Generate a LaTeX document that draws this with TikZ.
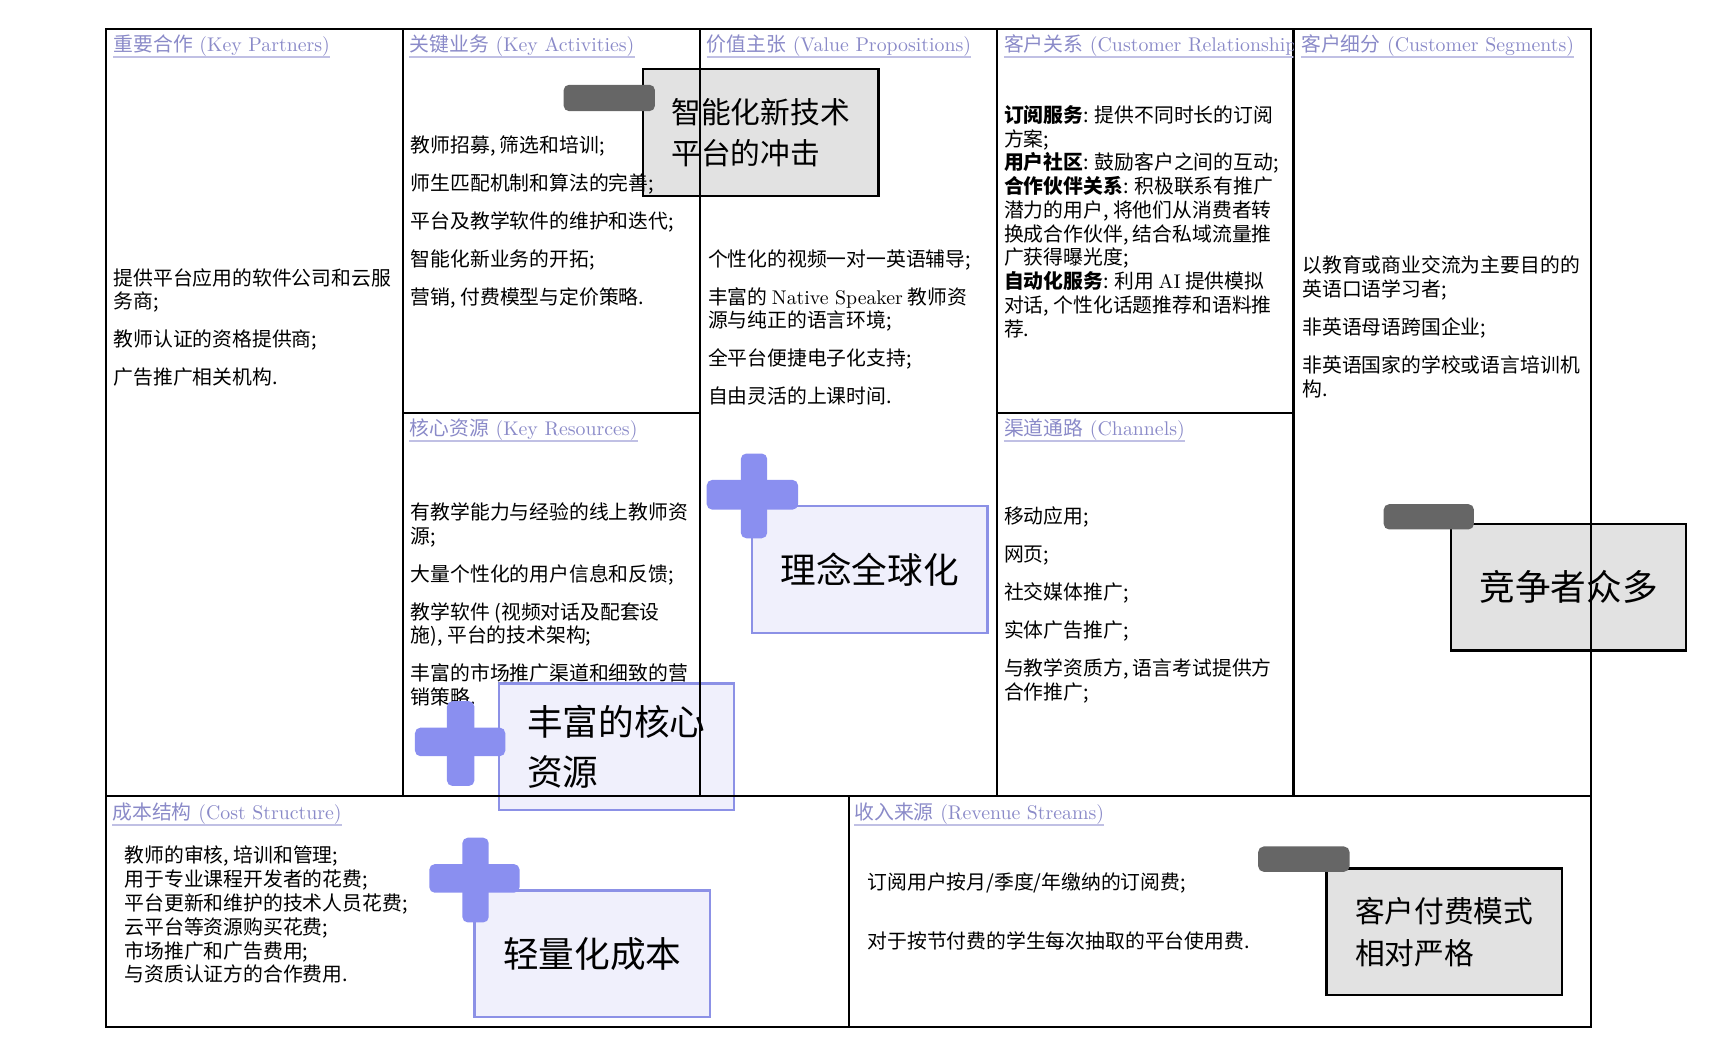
\documentclass[tikz,border=0pt]{standalone}
\usepackage{fontspec}
\setmainfont{lmroman10-regular}[Extension=.otf, BoldFont=lmroman10-bold]
\newfontfamily\cjk{Noto Sans CJK SC}
\pgfdeclarelayer{back}
\pgfdeclarelayer{front}
\pgfsetlayers{back,main,front}

\definecolor{hdr}{RGB}{138,138,200}
\definecolor{hdrrulecol}{RGB}{192,192,228}
\definecolor{notegray}{RGB}{226,226,226}
\definecolor{tabgray}{RGB}{102,102,102}
\definecolor{notelav}{RGB}{240,240,252}
\definecolor{lavedge}{RGB}{140,145,230}
\definecolor{plusblue}{RGB}{138,143,240}

\tikzset{
  cellline/.style={line width=2pt, black},
  hdrtext/.style={anchor=base west, inner xsep=0pt, inner ysep=0.5pt, text=hdr,
    font=\rmfamily\fontsize{18}{21}\selectfont},
  hdrrule/.style={draw=hdrrulecol, line width=1.4pt},
  bodytext/.style={anchor=north west, inner sep=0pt, align=left,
    font=\cjk\fontsize{18}{21.6}\selectfont},
  notebase/.style={anchor=north west, line width=2pt, minimum width=214pt,
    minimum height=115pt, align=left, inner sep=0pt},
  graynote/.style={notebase, draw=black, fill=notegray},
  lavnote/.style={notebase, draw=lavedge, fill=notelav},
  notesix/.style={font=\cjk\fontsize{27}{37.8}\selectfont},
  notefive/.style={font=\cjk\fontsize{32.4}{45}\selectfont},
  notetab/.style={fill=tabgray, rounded corners=5pt},
  plusbar/.style={fill=plusblue, rounded corners=5pt},
}

\begin{document}
\begin{tikzpicture}[x=1pt, y=-1pt]
\useasboundingbox (0,0) rectangle (1568,958);

% canvas grid
\draw[cellline] (96,26) rectangle (1445,933);
\draw[cellline] (96,723) -- (1445,723);
\draw[cellline] (366,26) -- (366,723);
\draw[cellline] (636,26) -- (636,723);
\draw[cellline] (906,26) -- (906,723);
\draw[cellline] (1175,26) -- (1175,723);
\draw[cellline] (366,375) -- (636,375);
\draw[cellline] (906,375) -- (1175,375);
\draw[cellline] (771,723) -- (771,933);

% section headings
\node[hdrtext] (hkp) at (103,46.5) {{\cjk 重要合作} (Key Partners)};
\draw[hdrrule] (hkp.south west) -- (hkp.south east);
\node[hdrtext] (hka) at (372,46.5) {{\cjk 关键业务} (Key Activities)};
\draw[hdrrule] (hka.south west) -- (hka.south east);
\node[hdrtext] (hvp) at (642,46.5) {{\cjk 价值主张} (Value Propositions)};
\draw[hdrrule] (hvp.south west) -- (hvp.south east);
\begin{scope}
  \clip (906,26) rectangle (1175,723);
  \node[hdrtext] (hcr) at (912,46.5) {{\cjk 客户关系} (Customer Relationships)};
  \draw[hdrrule] (hcr.south west) -- (hcr.south east);
\end{scope}
\node[hdrtext] (hcs) at (1182,46.5) {{\cjk 客户细分} (Customer Segments)};
\draw[hdrrule] (hcs.south west) -- (hcs.south east);
\node[hdrtext] (hkr) at (372,395.5) {{\cjk 核心资源} (Key Resources)};
\draw[hdrrule] (hkr.south west) -- (hkr.south east);
\node[hdrtext] (hch) at (912,395.5) {{\cjk 渠道通路} (Channels)};
\draw[hdrrule] (hch.south west) -- (hch.south east);
\node[hdrtext] (hcost) at (102,744.5) {{\cjk 成本结构} (Cost Structure)};
\draw[hdrrule] (hcost.south west) -- (hcost.south east);
\node[hdrtext] (hrev) at (776,744.5) {{\cjk 收入来源} (Revenue Streams)};
\draw[hdrrule] (hrev.south west) -- (hrev.south east);

% section contents
\node[bodytext] (bkp) at (103,243.5) {提供平台应用的软件公司和云服\\务商;\\[12.8pt]教师认证的资格提供商;\\[12.8pt]广告推广相关机构.};
\node[bodytext] (bka) at (373,123.5) {教师招募, 筛选和培训;\\[12.8pt]师生匹配机制和算法的完善;\\[12.8pt]平台及教学软件的维护和迭代;\\[12.8pt]智能化新业务的开拓;\\[12.8pt]营销, 付费模型与定价策略.};
\node[bodytext] (bvp) at (643,226.5) {个性化的视频一对一英语辅导;\\[12.8pt]丰富的 {\rmfamily Native Speaker} 教师资\\源与纯正的语言环境;\\[12.8pt]全平台便捷电子化支持;\\[12.8pt]自由灵活的上课时间.};
\node[bodytext] (bcr) at (912,95.5) {{\bfseries 订阅服务}: 提供不同时长的订阅\\方案;\\{\bfseries 用户社区}: 鼓励客户之间的互动;\\{\bfseries 合作伙伴关系}: 积极联系有推广\\潜力的用户, 将他们从消费者转\\换成合作伙伴, 结合私域流量推\\广获得曝光度;\\{\bfseries 自动化服务}: 利用 {\rmfamily AI} 提供模拟\\对话, 个性化话题推荐和语料推\\荐.};
\node[bodytext] (bcs) at (1183,232.5) {以教育或商业交流为主要目的的\\英语口语学习者;\\[12.8pt]非英语母语跨国企业;\\[12.8pt]非英语国家的学校或语言培训机\\构.};
\node[bodytext] (bkr) at (373,456.5) {有教学能力与经验的线上教师资\\源;\\[12.8pt]大量个性化的用户信息和反馈;\\[12.8pt]教学软件 (视频对话及配套设\\施), 平台的技术架构;\\[12.8pt]丰富的市场推广渠道和细致的营\\销策略.};
\node[bodytext] (bch) at (912,460.5) {移动应用;\\[12.8pt]网页;\\[12.8pt]社交媒体推广;\\[12.8pt]实体广告推广;\\[12.8pt]与教学资质方, 语言考试提供方\\合作推广;};
\node[bodytext] (bcost) at (113,768.5) {教师的审核, 培训和管理;\\用于专业课程开发者的花费;\\平台更新和维护的技术人员花费;\\云平台等资源购买花费;\\市场推广和广告费用;\\与资质认证方的合作费用.};
\node[bodytext] (brev) at (788,792.5) {订阅用户按月/季度/年缴纳的订阅费;\\[32.4pt]对于按节付费的学生每次抽取的平台使用费.};

% sticky notes
\begin{pgfonlayer}{back}
\node[graynote, notesix] (ntech) at (583,62) {智能化新技术\\平台的冲击};
\node[graynote, notefive] (ncomp) at (1317,475) {竞争者众多};
\node[graynote, notesix] (npay) at (1204,788) {客户付费模式\\相对严格};
\node[lavnote, notefive] (nglobal) at (682,459) {理念全球化};
\node[lavnote, notefive] (nres) at (452,620) {丰富的核心\\资源};
\node[lavnote, notefive] (ncost) at (430,808) {轻量化成本};
\end{pgfonlayer}

% note tabs and plus marks
\begin{pgfonlayer}{front}
\fill[notetab] (512,77) rectangle (595,101);
\fill[notetab] (1257,458) rectangle (1339,481);
\fill[notetab] (1143,769) rectangle (1226,792);
\fill[plusbar] (673,412) rectangle (697,489);
\fill[plusbar] (642,436) rectangle (725,463);
\fill[plusbar] (406,637) rectangle (431,714);
\fill[plusbar] (377,661) rectangle (459,687);
\fill[plusbar] (420,761) rectangle (444,838);
\fill[plusbar] (390,785) rectangle (472,811);
\end{pgfonlayer}
\end{tikzpicture}
\end{document}
